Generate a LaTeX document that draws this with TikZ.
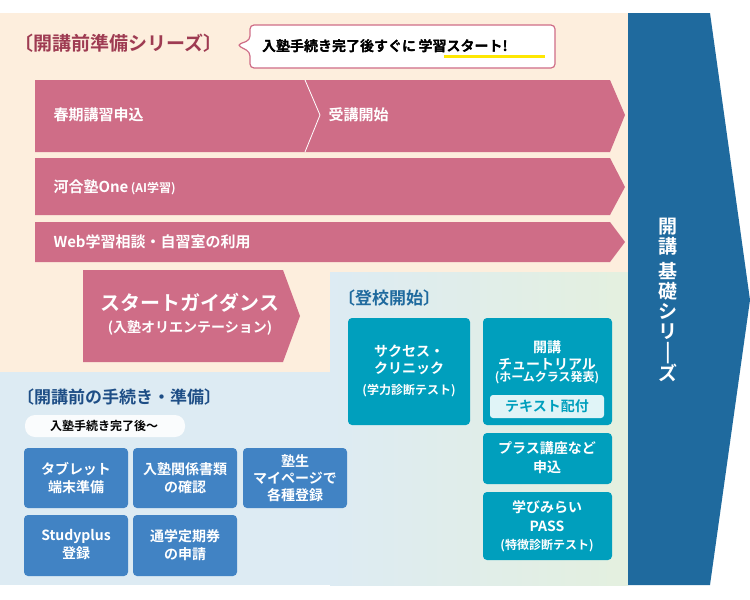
\documentclass[tikz,border=0pt]{standalone}
\usepackage{fontspec}
\setmainfont{Noto Sans CJK JP}[BoldFont={Noto Sans CJK JP Bold}]
\usetikzlibrary{shapes.callouts}
\definecolor{peach}{HTML}{FDEEDD}
\definecolor{lblue}{HTML}{DDEBF3}
\definecolor{lgreen}{HTML}{E4F0DF}
\definecolor{navy}{HTML}{1F6A9E}
\definecolor{pink}{HTML}{CF6D87}
\definecolor{wine}{HTML}{9E3B52}
\definecolor{teal}{HTML}{009FBD}
\definecolor{bbox}{HTML}{4183C4}
\definecolor{hdblue}{HTML}{1E4E86}
\tikzset{
 txt/.style={font=\bfseries, text=white, align=center},
 tealbox/.style={fill=teal, rounded corners=4pt, draw=none},
 bluebox/.style={fill=bbox, rounded corners=4pt, draw=none},
}
\begin{document}
\begin{tikzpicture}[x=1pt,y=-1pt]
\useasboundingbox (0,0) rectangle (750,600);
\fill[white] (0,0) rectangle (750,600);
% backgrounds
\fill[peach] (0,13) rectangle (628,372);
\fill[lblue] (0,372) rectangle (628,585);
\shade[left color=lblue, right color=lgreen] (330,272) rectangle (628,585);
% big arrow
\fill[navy] (628,13) -- (710,13) -- (750,300) -- (710,585) -- (628,585) -- cycle;
\node[txt, font=\bfseries\fontsize{19}{21}\selectfont, inner sep=0] (kiso) at (668,300)
 {開\\[-1pt]講\\[4pt]基\\[-1pt]礎\\[-1pt]シ\\[-1pt]リ\\[-1pt]|\\[-1pt]ズ};
% header
\node[anchor=west, text=wine, font=\bfseries\fontsize{19}{21}\selectfont, inner sep=0] (hd1) at (14,43) {〔開講前準備シリーズ〕};
\draw[pink, line width=1.2pt, fill=white, rounded corners=4pt] (250,25) -- (555,25) -- (555,68) -- (250,68) -- (250,52) -- (237,45) -- (250,40) -- cycle;
\node[anchor=west, font=\bfseries\fontsize{14}{16}\selectfont, inner sep=0] (call) at (262,46) {入塾手続き完了後すぐに\,学習スタート!};
\fill[yellow!90!orange] (444,55) rectangle (545,58);
\node[anchor=west, font=\bfseries\fontsize{14}{16}\selectfont, inner sep=0] at (262,46) {入塾手続き完了後すぐに\,学習スタート!};
% pink arrows
\fill[pink] (35,80) -- (610,80) -- (625,115) -- (610,152) -- (35,152) -- cycle;
\draw[white, line width=0.8pt] (305,80) -- (320,115) -- (305,152);
\node[txt, anchor=west, font=\bfseries\fontsize{15}{17}\selectfont] (a1) at (50,115) {春期講習申込};
\node[txt, anchor=west, font=\bfseries\fontsize{15}{17}\selectfont] (a2) at (325,115) {受講開始};
\fill[pink] (35,158) -- (610,158) -- (625,187) -- (610,215) -- (35,215) -- cycle;
\node[txt, anchor=west, font=\bfseries\fontsize{15}{17}\selectfont] (a3) at (50,187) {河合塾One\,{\fontsize{12}{14}\selectfont (AI学習)}};
\fill[pink] (35,222) -- (610,222) -- (625,242) -- (610,262) -- (35,262) -- cycle;
\node[txt, anchor=west, font=\bfseries\fontsize{15}{17}\selectfont] (a4) at (50,242) {Web学習相談・自習室の利用};
\fill[pink] (83,270) -- (283,270) -- (300,316) -- (283,362) -- (83,362) -- cycle;
\node[txt, font=\bfseries\fontsize{20}{22}\selectfont] (sg) at (190,303) {スタートガイダンス};
\node[txt, font=\bfseries\fontsize{14}{16}\selectfont] (sg2) at (190,328) {(入塾オリエンテーション)};
% 登校開始
\node[anchor=west, text=navy, font=\bfseries\fontsize{17}{19}\selectfont, inner sep=0] (hd2) at (338,298) {〔登校開始〕};
\fill[tealbox] (348,318) rectangle (470,425);
\node[txt, font=\bfseries\fontsize{14}{17}\selectfont] (t1) at (409,360) {サクセス・\\クリニック};
\node[txt, font=\bfseries\fontsize{12}{14}\selectfont] (t1b) at (409,391) {(学力診断テスト)};
\fill[tealbox] (483,318) rectangle (612,425);
\node[txt, font=\bfseries\fontsize{14}{17}\selectfont] (t2) at (547,355) {開講\\チュートリアル};
\node[txt, font=\bfseries\fontsize{12}{14}\selectfont] (t2b) at (547,378) {(ホームクラス発表)};
\fill[teal!12!white, rounded corners=3pt] (490,395) rectangle (604,418);
\node[text=teal, font=\bfseries\fontsize{14}{16}\selectfont] (t2c) at (547,406) {テキスト配付};
\fill[tealbox] (483,433) rectangle (612,484);
\node[txt, font=\bfseries\fontsize{14}{19}\selectfont] (t3) at (547,458) {プラス講座など\\申込};
\fill[tealbox] (483,492) rectangle (612,560);
\node[txt, font=\bfseries\fontsize{14}{19}\selectfont] (t4) at (547,516) {学びみらい\\PASS};
\node[txt, font=\bfseries\fontsize{12}{14}\selectfont] (t4b) at (547,546) {(特徴診断テスト)};
% 手続き
\node[anchor=west, text=hdblue, font=\bfseries\fontsize{17}{19}\selectfont, inner sep=0] (hd3) at (17,397) {〔開講前の手続き・準備〕};
\fill[white!85!lblue, rounded corners=10pt] (25,415) rectangle (185,437);
\node[font=\bfseries\fontsize{12}{14}\selectfont] (pill) at (104,426) {入塾手続き完了後～};
\tikzset{bt/.style={txt, font=\bfseries\fontsize{14}{18}\selectfont}}
\fill[bluebox] (24,448) rectangle (128,508);  \node[bt] (b1) at (76,478) {タブレット\\端末準備};
\fill[bluebox] (133,448) rectangle (237,508); \node[bt] (b2) at (185,478) {入塾関係書類\\の確認};
\fill[bluebox] (243,448) rectangle (347,508); \node[bt, font=\bfseries\fontsize{14}{17}\selectfont] (b3) at (295,478) {塾生\\マイページで\\各種登録};
\fill[bluebox] (24,515) rectangle (128,576);  \node[bt] (b4) at (76,545) {Studyplus\\登録};
\fill[bluebox] (133,515) rectangle (237,576); \node[bt] (b5) at (185,545) {通学定期券\\の申請};
\end{tikzpicture}
\end{document}
